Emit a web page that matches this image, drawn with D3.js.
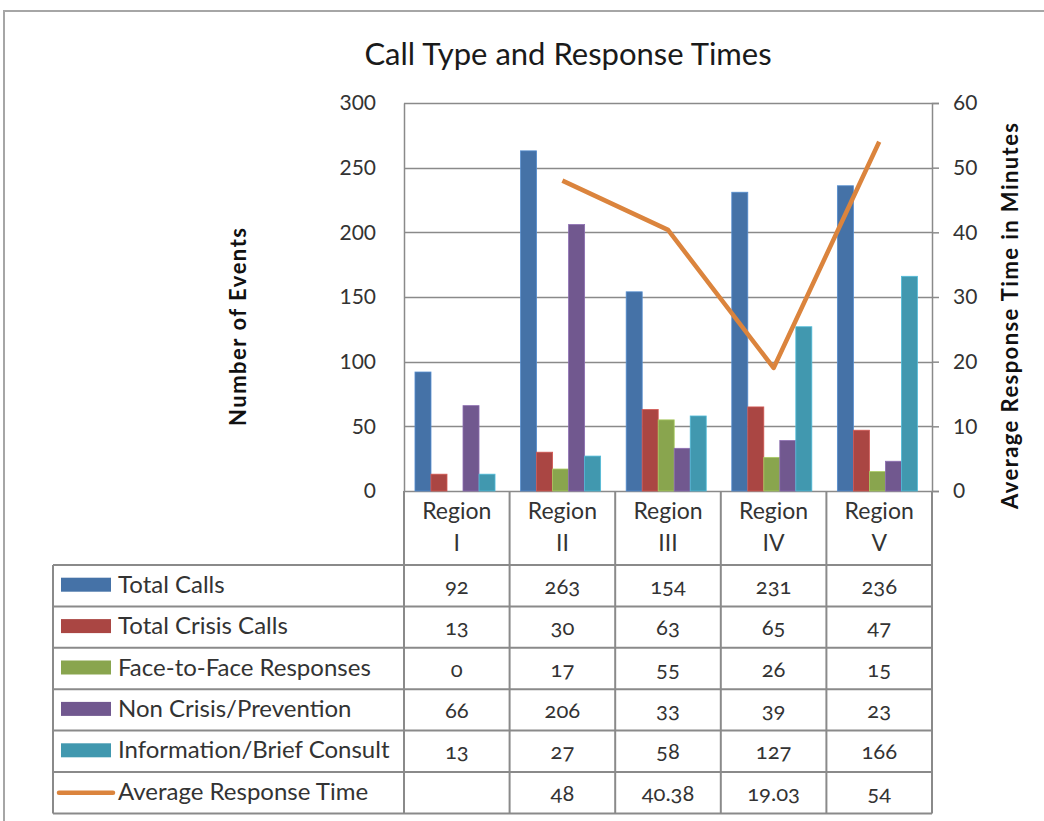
<!DOCTYPE html>
<html>
<head>
<meta charset="utf-8">
<script src="https://cdn.jsdelivr.net/npm/d3@7"></script>
<style>
  body { margin: 0; background: #fff; }
  text { font-family: Lato, "Open Sans", sans-serif; }
</style>
</head>
<body>
<div id="chart"></div>
<script>
// data
const regions = ["Region I", "Region II", "Region III", "Region IV", "Region V"];
const seriesNames = ["Total Calls", "Total Crisis Calls", "Face-to-Face Responses", "Non Crisis/Prevention", "Information/Brief Consult"];
const totalCalls = [92, 263, 154, 231, 236];
const crisisCalls = [13, 30, 63, 65, 47];
const faceToFace = [0, 17, 55, 26, 15];
const nonCrisis = [66, 206, 33, 39, 23];
const infoConsult = [13, 27, 58, 127, 166];
const lineName = "Average Response Time";
const avgResponse = [null, 48, 40.38, 19.03, 54];
const leftTicks = [0, 50, 100, 150, 200, 250, 300];
const rightTicks = [0, 10, 20, 30, 40, 50, 60];

const seriesValues = [totalCalls, crisisCalls, faceToFace, nonCrisis, infoConsult];
const seriesColors = ["#4572A7", "#AA4643", "#89A54E", "#71588F", "#4198AF"];
const lineColor = "#DB843D";

const WIDTH = 1044, HEIGHT = 821;
const PLOT = { LEFT: 404, RIGHT: 932, TOP: 103, BOTTOM: 491 };
const TABLE = { LEFT: 53, HEADER_BOTTOM: 565, ROW_H: 41.4 };
const GRID = "#8a8a8a";

const svg = d3.select("#chart")
  .append("svg")
  .attr("width", WIDTH)
  .attr("height", HEIGHT);

// chart area border
svg.append("path")
  .attr("d", "M4,830V11H1050")
  .attr("fill", "none")
  .attr("stroke", "#a6a6a6")
  .attr("stroke-width", 2);

// scales
const x = d3.scaleBand().domain(regions).range([PLOT.LEFT, PLOT.RIGHT]);
const bw = x.bandwidth();
const xInner = d3.scaleBand().domain(seriesNames).range([bw * 0.104, bw * 0.862]);
const y = d3.scaleLinear().domain([0, 300]).range([PLOT.BOTTOM, PLOT.TOP]);
const y2 = d3.scaleLinear().domain([0, 60]).range([PLOT.BOTTOM, PLOT.TOP]);

// title
svg.append("text")
  .attr("x", 568)
  .attr("y", 65)
  .attr("text-anchor", "middle")
  .attr("font-size", "31px")
  .attr("fill", "#1a1a1a")
  .text("Call Type and Response Times");

// gridlines
svg.append("g")
  .selectAll("line")
  .data(leftTicks)
  .join("line")
  .attr("x1", PLOT.LEFT)
  .attr("x2", PLOT.RIGHT)
  .attr("y1", (d) => Math.round(y(d)) + 0.5)
  .attr("y2", (d) => Math.round(y(d)) + 0.5)
  .attr("stroke", GRID)
  .attr("stroke-width", 1.5);

// left axis
const yAxis = svg.append("g")
  .attr("transform", `translate(${PLOT.LEFT},0)`)
  .call(d3.axisLeft(y).tickValues(leftTicks).tickSize(0).tickPadding(28));
yAxis.select(".domain").attr("stroke", GRID).attr("stroke-width", 1.5);
yAxis.selectAll("text")
  .attr("font-family", "'Open Sans', sans-serif")
  .attr("font-size", "21px")
  .attr("fill", "#333");

// right axis
const y2Axis = svg.append("g")
  .attr("transform", `translate(${PLOT.RIGHT},0)`)
  .call(d3.axisRight(y2).tickValues(rightTicks).tickSize(7).tickPadding(14));
y2Axis.select(".domain").attr("stroke", GRID).attr("stroke-width", 1.5);
y2Axis.selectAll("line").attr("stroke", GRID).attr("stroke-width", 1.5);
y2Axis.selectAll("text")
  .attr("font-family", "'Open Sans', sans-serif")
  .attr("font-size", "21px")
  .attr("fill", "#333");

// axis titles
svg.append("text")
  .attr("transform", "translate(246,327) rotate(-90)")
  .attr("text-anchor", "middle")
  .attr("font-family", "'Open Sans', sans-serif")
  .attr("font-weight", "bold")
  .attr("font-size", "22px")
  .attr("textLength", 198)
  .attr("fill", "#111")
  .text("Number of Events");

svg.append("text")
  .attr("transform", "translate(1018,316) rotate(-90)")
  .attr("text-anchor", "middle")
  .attr("font-family", "'Open Sans', sans-serif")
  .attr("font-weight", "bold")
  .attr("font-size", "22px")
  .attr("textLength", 386)
  .attr("fill", "#111")
  .text("Average Response Time in Minutes");

// bars
const barData = [];
seriesNames.forEach((s, i) => {
  regions.forEach((r, j) => {
    barData.push({ series: s, region: r, value: seriesValues[i][j], color: seriesColors[i] });
  });
});
svg.append("g")
  .selectAll("rect")
  .data(barData.filter((d) => d.value > 0))
  .join("rect")
  .attr("x", (d) => x(d.region) + xInner(d.series))
  .attr("y", (d) => y(d.value))
  .attr("width", xInner.bandwidth())
  .attr("height", (d) => PLOT.BOTTOM - y(d.value))
  .attr("fill", (d) => d.color)
  .attr("stroke", (d) => d3.color(d.color).brighter(0.6))
  .attr("stroke-width", 0.8);

// line
const line = d3.line()
  .defined((d) => d != null)
  .x((d, i) => x(regions[i]) + bw / 2)
  .y((d) => y2(d));
svg.append("path")
  .attr("d", line(avgResponse))
  .attr("fill", "none")
  .attr("stroke", lineColor)
  .attr("stroke-width", 4.5)
  .attr("stroke-linejoin", "round");

// data table
const tableG = svg.append("g");
const rowNames = seriesNames.concat([lineName]);
const rowValues = seriesValues.concat([avgResponse]);
const colEdges = [TABLE.LEFT].concat(regions.map((r) => x(r)), [PLOT.RIGHT]);
const rowEdges = d3.range(rowNames.length + 1).map((i) => TABLE.HEADER_BOTTOM + i * TABLE.ROW_H);

// header verticals
tableG.selectAll(".hv")
  .data(regions.map((r) => x(r)).concat([PLOT.RIGHT]))
  .join("line")
  .attr("x1", (d) => d).attr("x2", (d) => d)
  .attr("y1", PLOT.BOTTOM).attr("y2", TABLE.HEADER_BOTTOM)
  .attr("stroke", GRID).attr("stroke-width", 2);

// body verticals
tableG.selectAll(".bv")
  .data(colEdges)
  .join("line")
  .attr("x1", (d) => d).attr("x2", (d) => d)
  .attr("y1", TABLE.HEADER_BOTTOM).attr("y2", rowEdges[rowEdges.length - 1])
  .attr("stroke", GRID).attr("stroke-width", 2);

// horizontals
tableG.selectAll(".bh")
  .data(rowEdges)
  .join("line")
  .attr("x1", TABLE.LEFT).attr("x2", PLOT.RIGHT)
  .attr("y1", (d) => d).attr("y2", (d) => d)
  .attr("stroke", GRID).attr("stroke-width", 2);

// region headers
regions.forEach((r) => {
  const parts = r.split(" ");
  const t = tableG.append("text")
    .attr("x", x(r) + bw / 2)
    .attr("text-anchor", "middle")
    .attr("font-family", "'Open Sans', sans-serif")
    .attr("font-size", "23px")
    .attr("fill", "#333");
  t.append("tspan").attr("x", x(r) + bw / 2).attr("y", 519).text(parts[0]);
  t.append("tspan").attr("x", x(r) + bw / 2).attr("y", 551).text(parts[1]);
});

// row labels and swatches
rowNames.forEach((name, i) => {
  const cy = rowEdges[i] + TABLE.ROW_H / 2;
  if (i < seriesNames.length) {
    tableG.append("rect")
      .attr("x", 61).attr("y", cy - 8)
      .attr("width", 50).attr("height", 14)
      .attr("fill", seriesColors[i]);
  } else {
    tableG.append("line")
      .attr("x1", 59).attr("x2", 113)
      .attr("y1", cy).attr("y2", cy)
      .attr("stroke", lineColor).attr("stroke-width", 4.5)
      .attr("stroke-linecap", "round");
  }
  tableG.append("text")
    .attr("x", 118)
    .attr("y", cy + 7)
    .attr("font-size", "24px")
    .attr("fill", "#333")
    .text(name);

  rowValues[i].forEach((v, j) => {
    if (v == null) return;
    tableG.append("text")
      .attr("x", x(regions[j]) + bw / 2)
      .attr("y", cy + 8)
      .attr("text-anchor", "middle")
      .attr("font-size", "22px")
      .style("font-variant-numeric", "oldstyle-nums")
      .attr("fill", "#333")
      .text(v);
  });
});
</script>
</body>
</html>
